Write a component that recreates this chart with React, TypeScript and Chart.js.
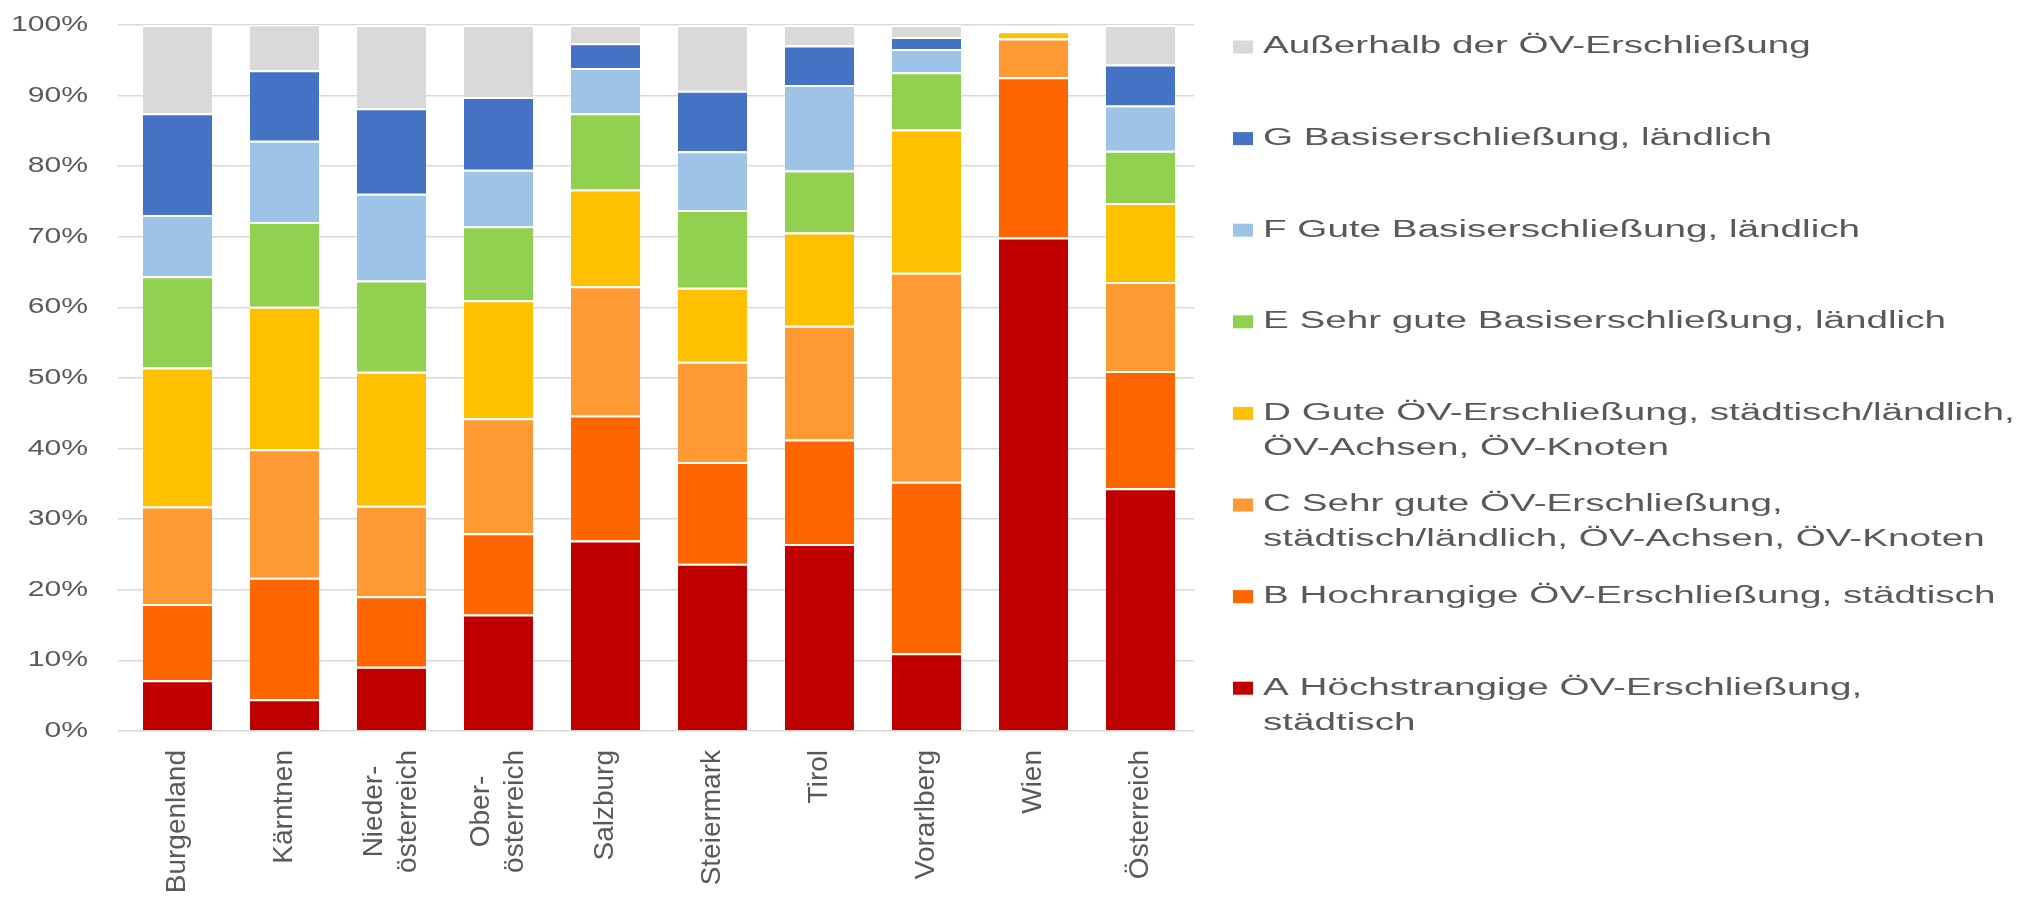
import { useEffect, useRef } from 'react';
import { Chart, registerables } from 'chart.js';

Chart.register(...registerables);

const categories: (string | string[])[] = [
  'Burgenland',
  'Kärntnen',
  ['Nieder-', 'österreich'],
  ['Ober-', 'österreich'],
  'Salzburg',
  'Steiermark',
  'Tirol',
  'Vorarlberg',
  'Wien',
  'Österreich',
];

const seriesLabels: string[][] = [
  ['A Höchstrangige ÖV-Erschließung,', 'städtisch'],
  ['B Hochrangige ÖV-Erschließung, städtisch'],
  ['C Sehr gute ÖV-Erschließung,', 'städtisch/ländlich, ÖV-Achsen, ÖV-Knoten'],
  ['D Gute ÖV-Erschließung, städtisch/ländlich,', 'ÖV-Achsen, ÖV-Knoten'],
  ['E Sehr gute Basiserschließung, ländlich'],
  ['F Gute Basiserschließung, ländlich'],
  ['G Basiserschließung, ländlich'],
  ['Außerhalb der ÖV-Erschließung'],
];

const seriesColors = ['#C00000', '#FF6600', '#FF9933', '#FFC000', '#92D050', '#9DC3E6', '#4472C4', '#D9D9D9'];

const valuesA = [7.2, 4.5, 9.1, 16.5, 27.0, 23.7, 26.5, 11.0, 69.9, 34.4];
const valuesB = [10.8, 17.2, 10.0, 11.5, 17.7, 14.4, 14.8, 24.3, 22.7, 16.6];
const valuesC = [13.8, 18.2, 12.8, 16.3, 18.3, 14.2, 16.1, 29.6, 5.5, 12.6];
const valuesD = [19.7, 20.2, 19.0, 16.7, 13.7, 10.5, 13.2, 20.3, 1.0, 11.2];
const valuesE = [12.9, 12.0, 12.9, 10.5, 10.8, 11.0, 8.8, 8.1, 0, 7.4];
const valuesF = [8.7, 11.5, 12.3, 8.0, 6.4, 8.3, 12.1, 3.3, 0, 6.4];
const valuesG = [14.4, 10.0, 12.1, 10.3, 3.5, 8.6, 5.6, 1.7, 0, 5.8];
const valuesOut = [12.5, 6.5, 11.8, 10.2, 2.6, 9.3, 2.9, 1.7, 0, 5.6];

const seriesValues = [valuesA, valuesB, valuesC, valuesD, valuesE, valuesF, valuesG, valuesOut];

const FONT = '"Liberation Sans", Arial, Helvetica, sans-serif';
const TEXT_COLOR = '#595959';

function drawScaled(ctx: CanvasRenderingContext2D, text: string, x: number, y: number, sx: number) {
  ctx.save();
  ctx.translate(x, y);
  ctx.scale(sx, 1);
  ctx.fillText(text, 0, 0);
  ctx.restore();
}

const textPlugin = {
  id: 'customText',
  afterDraw(chart: any) {
    const ctx: CanvasRenderingContext2D = chart.ctx;
    const xs = chart.scales.x;
    const ys = chart.scales.y;
    const area = chart.chartArea;
    ctx.save();
    ctx.fillStyle = TEXT_COLOR;

    // y tick labels
    ctx.font = `22px ${FONT}`;
    ctx.textAlign = 'right';
    ctx.textBaseline = 'middle';
    ys.ticks.forEach((t: any) => {
      const py = ys.getPixelForValue(t.value);
      drawScaled(ctx, `${t.value}%`, area.left - 36, py, 1.37);
    });

    // x category labels (rotated)
    ctx.font = `28px ${FONT}`;
    ctx.textAlign = 'center';
    ctx.textBaseline = 'middle';
    categories.forEach((cat, i) => {
      const lines = Array.isArray(cat) ? cat : [cat];
      const blockW = Math.max(...lines.map((l) => ctx.measureText(l).width));
      const px = xs.getPixelForValue(i);
      ctx.save();
      ctx.translate(px, area.bottom + 19 + blockW / 2);
      ctx.rotate(-Math.PI / 2);
      lines.forEach((l, j) => {
        ctx.fillText(l, 0, (j - (lines.length - 1) / 2) * 34);
      });
      ctx.restore();
    });

    // legend (reverse order)
    ctx.font = `23px ${FONT}`;
    ctx.textAlign = 'left';
    ctx.textBaseline = 'middle';
    const n = chart.data.datasets.length;
    for (let k = 0; k < n; k++) {
      const dsIndex = n - 1 - k;
      const ds = chart.data.datasets[dsIndex];
      const lines = seriesLabels[dsIndex];
      const yc = area.top + 22 + k * 91.6;
      ctx.fillStyle = ds.backgroundColor as string;
      ctx.fillRect(area.right + 39, yc - 6.5, 20, 13);
      ctx.fillStyle = TEXT_COLOR;
      lines.forEach((l, j) => {
        drawScaled(ctx, l, area.right + 69, yc + j * 35, 1.68);
      });
    }
    ctx.restore();
  },
};

export default function App() {
  const canvasRef = useRef<HTMLCanvasElement | null>(null);

  useEffect(() => {
    if (!canvasRef.current) return;
    const chart = new Chart(canvasRef.current, {
      type: 'bar',
      data: {
        labels: categories.map((c) => (Array.isArray(c) ? c.join('') : c)),
        datasets: seriesValues.map((vals, i) => ({
          label: seriesLabels[i].join(' '),
          data: vals,
          backgroundColor: seriesColors[i],
          borderColor: '#FFFFFF',
          borderWidth: { top: 2, left: 0, right: 0, bottom: 0 },
          borderSkipped: false as any,
          categoryPercentage: 1,
          barPercentage: 0.645,
        })),
      },
      options: {
        animation: false,
        responsive: true,
        maintainAspectRatio: false,
        layout: { padding: { left: 0, right: 827, top: 25, bottom: 0 } },
        plugins: {
          legend: { display: false },
          tooltip: { enabled: false },
        },
        scales: {
          x: {
            stacked: true,
            grid: { display: false },
            border: { display: false },
            ticks: { display: false },
            afterFit: (s: any) => {
              s.height = 170;
            },
          },
          y: {
            stacked: true,
            min: 0,
            max: 100,
            ticks: { display: false, stepSize: 10 },
            grid: { color: '#D9D9D9', lineWidth: 1.5, tickLength: 6 },
            border: { display: false },
            afterFit: (s: any) => {
              s.width = 124;
            },
          },
        },
      },
      plugins: [textPlugin],
    });
    return () => chart.destroy();
  }, []);

  return (
    <div style={{ position: 'fixed', left: 0, top: 0, width: '2021px', height: '901px', background: '#fff' }}>
      <canvas ref={canvasRef} />
    </div>
  );
}
